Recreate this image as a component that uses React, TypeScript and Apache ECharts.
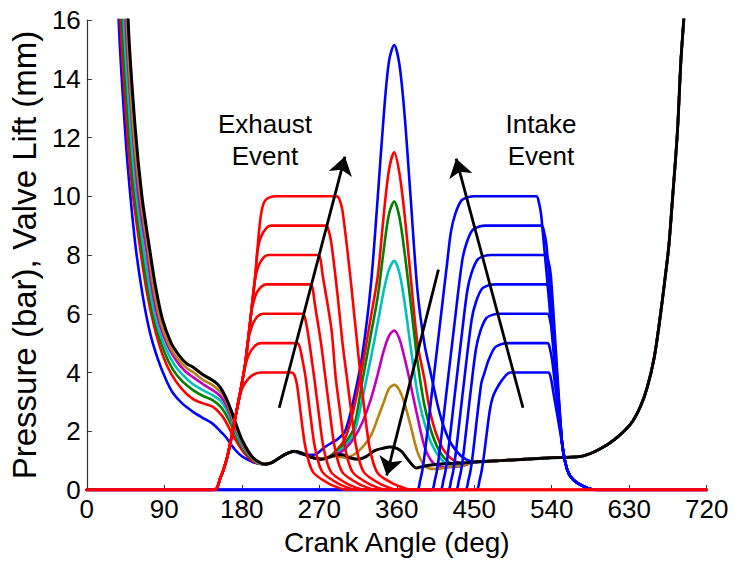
import React, { useEffect, useRef } from "react";
import * as echarts from "echarts";

// ---------- Pressure curves (crank angle deg, pressure bar) ----------
const expBlue = [[20,40],[30,24],[37,16],[45,12],[50,10.2],[57,8.2],[65,6.6],[73,5.4],[82,4.5],[92,3.75],[100,3.3],[111,2.94],[123,2.67],[135,2.45],[146,2.26],[155,2.0],[161,1.82],[172,1.38],[180,1.15],[188,1.02],[198,0.9],[207,0.88]];
const expRed = [[22,40],[32,24],[39,16],[47,12.2],[53,10.2],[62,8.2],[70,6.7],[78,5.6],[88,4.6],[98,3.95],[110,3.45],[123,3.1],[135,2.95],[146,2.84],[155,2.6],[161,2.35],[168,1.95],[175,1.6],[183,1.25],[192,1.0],[200,0.9],[207,0.88]];
const expGreen = [[24,40],[34,24],[41,16],[49,12.2],[55,10.2],[64,8.2],[72,6.7],[80,5.6],[90,4.7],[100,4.1],[111,3.7],[123,3.41],[135,3.2],[146,3.06],[155,2.85],[161,2.6],[168,2.2],[175,1.75],[183,1.35],[192,1.05],[200,0.9],[207,0.88]];
const expCyan = [[25,40],[36,24],[43,16],[51,12.2],[57,10.2],[66,8.2],[74,6.7],[82,5.6],[92,4.8],[102,4.25],[112,3.9],[123,3.61],[135,3.4],[146,3.23],[155,3.05],[161,2.8],[168,2.35],[175,1.85],[183,1.4],[192,1.08],[200,0.9],[207,0.88]];
const expMagenta = [[27,40],[38,24],[45,16],[53,12.3],[60,10],[69,8.2],[76,6.8],[84,5.7],[94,4.9],[104,4.4],[114,4.05],[123,3.85],[135,3.6],[146,3.4],[155,3.2],[161,2.95],[168,2.45],[175,1.95],[183,1.45],[192,1.1],[200,0.92],[207,0.88]];
const expOlive = [[28,40],[39,24],[46.5,16],[54,12.3],[62,10],[71,8.2],[78,6.8],[86,5.7],[96,4.9],[106,4.45],[116,4.15],[123,4.02],[135,3.75],[146,3.57],[155,3.35],[161,3.1],[168,2.55],[175,2.0],[183,1.5],[192,1.1],[200,0.92],[207,0.88]];
const expBlack = [[30,40],[40,24],[48,16],[56,12.4],[64,10],[73,8.2],[80,6.9],[88,5.8],[98,5.0],[108,4.55],[116,4.3],[123,4.19],[135,3.92],[146,3.74],[152,3.6],[157,3.4],[163,3.05],[169,2.6],[175,2.1],[180,1.72],[188,1.3],[195,1.05],[207,0.88]];

const baseWave = [[215,0.93],[225,1.12],[233,1.25],[241,1.32],[250,1.25],[260,1.12],[272,1.05],[280,1.1]];
const waveBlue = [[215,0.95],[225,1.12],[233,1.25],[241,1.3],[250,1.22],[264,1.2],[276,1.45],[284,1.6]];

const peakBlue = [[290,1.7],[300,2.0],[310,3.1],[320,4.6],[330,7.0],[338,10.0],[345,12.8],[351,14.6],[357,15.15],[363,14.5],[369,12.8],[376,10.0],[384,6.8],[392,5.0],[400,3.9],[410,2.6],[420,1.75],[430,1.3],[440,1.05]];
const peakRed = [[290,1.35],[300,1.75],[310,2.75],[320,4.2],[330,5.9],[338,7.3],[345,9.4],[351,10.9],[357,11.5],[363,10.8],[369,9.4],[376,7.3],[384,5.0],[392,3.8],[400,2.5],[410,1.6],[420,1.15],[430,0.95],[440,0.9]];
const peakGreen = [[290,1.3],[300,1.6],[310,2.1],[320,3.7],[330,5.3],[338,6.6],[345,8.2],[351,9.4],[357,9.82],[363,9.3],[369,8.1],[376,6.4],[384,4.4],[392,2.9],[400,2.0],[410,1.3],[420,0.95],[430,0.85],[440,0.87]];
const peakCyan = [[290,1.25],[300,1.5],[310,1.9],[320,3.1],[330,4.5],[338,5.7],[345,6.8],[351,7.5],[357,7.8],[363,7.4],[369,6.4],[376,4.9],[384,3.3],[392,2.3],[400,1.6],[410,1.1],[420,0.85],[430,0.8],[440,0.85]];
const peakMagenta = [[290,1.2],[300,1.4],[310,1.75],[320,2.3],[330,3.1],[338,3.95],[345,4.75],[351,5.25],[357,5.43],[363,5.15],[369,4.5],[376,3.6],[384,2.5],[392,1.5],[400,1.0],[410,0.8],[420,0.78],[430,0.8],[440,0.85]];
const peakOlive = [[290,1.15],[300,1.1],[310,1.2],[320,1.45],[330,1.85],[338,2.45],[345,3.0],[351,3.45],[357,3.58],[363,3.4],[369,2.95],[376,2.2],[384,1.3],[392,0.85],[400,0.72],[410,0.72],[420,0.78],[430,0.82],[440,0.86]];
const peakBlack = [[290,1.2],[297,1.2],[305,1.1],[316,1.05],[325,1.15],[335,1.35],[344,1.42],[352,1.46],[360,1.42],[366,1.3],[374,1.0],[383,0.75],[390,0.8],[400,0.85],[420,0.9],[440,0.93]];

const compression = [[450,0.95],[480,1.0],[510,1.05],[540,1.1],[575,1.15],[595,1.38],[613,1.72],[632,2.26],[643,2.84],[651,3.5],[659,4.5],[666,5.9],[672,7.3],[676,8.3],[680,9.8],[686,12.2],[690,14.6],[694,16.3],[700,19.5],[710,26]];

// ---------- Exhaust valve lift (mm) ----------
const exh4 = [[0,0],[148,0],[155,0.4],[161,0.9],[166,1.5],[172,2.4],[177,3.1],[181,3.5],[188,3.8],[195,3.95],[202,4.0],[238,4],[241,3.92],[244,3.6],[248,2.7],[253,1.6],[258,0.95],[263,0.6],[271,0.4],[286,0.15],[303,0],[720,0]];
const exh5 = [[0,0],[148,0],[155,0.4],[161,0.9],[166,1.5],[172,2.4],[178,3.3],[183,4.1],[188,4.6],[195,4.9],[202,5.0],[244,5],[247,4.9],[250,4.5],[254,3.85],[259,2.7],[264,1.6],[269,0.95],[274,0.6],[282,0.4],[297,0.15],[314,0],[720,0]];
const exh6 = [[0,0],[148,0],[155,0.4],[161,0.9],[166,1.5],[172,2.4],[178,3.3],[184,4.3],[187,5.05],[192,5.6],[198,5.9],[205,6.0],[250,6],[253,5.9],[257,5.3],[264,3.85],[269,2.7],[274,1.6],[279,0.95],[284,0.6],[292,0.4],[307,0.15],[324,0],[720,0]];
const exh7 = [[0,0],[148,0],[155,0.4],[161,0.9],[166,1.5],[172,2.4],[178,3.3],[184,4.3],[190,5.8],[192,6.2],[197,6.7],[203,6.93],[209,7.0],[259,7],[262,6.9],[265,6.3],[272,5.0],[277,3.85],[282,2.7],[287,1.6],[292,0.95],[297,0.6],[305,0.4],[320,0.15],[337,0],[720,0]];
const exh8 = [[0,0],[148,0],[155,0.4],[161,0.9],[166,1.5],[172,2.4],[178,3.3],[184,4.3],[190,5.8],[195,7.1],[199,7.6],[205,7.9],[211,8.0],[268,8],[271,7.9],[274,7.3],[284,5.5],[289,3.85],[294,2.7],[299,1.6],[304,0.95],[309,0.6],[317,0.4],[332,0.15],[349,0],[720,0]];
const exh9 = [[0,0],[148,0],[155,0.4],[161,0.9],[166,1.5],[172,2.4],[178,3.3],[184,4.3],[190,5.8],[196,7.4],[198,8.1],[202,8.6],[208,8.9],[214,9.0],[277,9],[280,8.92],[284,8.4],[291,6.7],[297,5.0],[302,3.85],[307,2.7],[312,1.6],[317,0.95],[322,0.6],[330,0.4],[345,0.15],[362,0],[720,0]];
const exh10 = [[0,0],[148,0],[155,0.4],[161,0.9],[166,1.5],[172,2.4],[178,3.3],[184,4.3],[190,5.8],[196,7.4],[200,8.8],[203,9.5],[207,9.85],[213,9.97],[220,10],[290,10],[293,9.92],[297,9.5],[307,7.0],[318,3.85],[323,2.6],[328,1.5],[333,0.9],[338,0.57],[346,0.38],[361,0.15],[378,0],[720,0]];

// ---------- Intake valve lift (mm) ----------
const int10 = [[0,0],[383,0],[387,0.3],[391,0.9],[400,3.1],[410,5.6],[418,7.6],[423,8.8],[428,9.4],[435,9.85],[443,9.97],[450,10],[522,10],[525,9.8],[528,9.3],[540,5.4],[552,1.6],[556,0.9],[560,0.55],[565,0.35],[572,0.2],[582,0.06],[592,0],[720,0]];
const int9 = [[0,0],[400,0],[404,0.3],[408,0.9],[418,3.4],[428,5.9],[436,7.8],[441,8.4],[448,8.85],[456,8.97],[463,9],[528,9],[531,8.8],[534,8.3],[543,4.95],[552,1.6],[556,0.9],[560,0.55],[565,0.35],[572,0.2],[582,0.06],[592,0],[720,0]];
const int8 = [[0,0],[410,0],[414,0.3],[418,0.9],[428,3.4],[436,5.4],[442,6.8],[447,7.4],[454,7.85],[462,7.97],[470,8],[533,8],[536,7.8],[539,7.3],[552,1.6],[556,0.9],[560,0.55],[565,0.35],[572,0.2],[582,0.06],[592,0],[720,0]];
const int7 = [[0,0],[419,0],[423,0.3],[427,0.9],[437,3.4],[447,5.8],[452,6.4],[459,6.85],[467,6.97],[475,7],[534,7],[537,6.8],[540,6.3],[552,1.6],[556,0.9],[560,0.55],[565,0.35],[572,0.2],[582,0.06],[592,0],[720,0]];
const int6 = [[0,0],[428,0],[432,0.3],[436,0.9],[446,3.4],[452,4.8],[457,5.4],[464,5.85],[472,5.97],[480,6],[535,6],[538,5.8],[541,5.3],[552,1.6],[556,0.9],[560,0.55],[565,0.35],[572,0.2],[582,0.06],[592,0],[720,0]];
const int5 = [[0,0],[439,0],[443,0.3],[447,0.9],[458,3.6],[462,4.0],[467,4.45],[474,4.85],[482,4.97],[490,5],[535,5],[538,4.8],[541,4.3],[552,1.6],[556,0.9],[560,0.55],[565,0.35],[572,0.2],[582,0.06],[592,0],[720,0]];
const int4 = [[0,0],[452,0],[456,0.3],[460,0.9],[468,2.7],[472,3.2],[479,3.6],[486,3.88],[492,4],[536,4],[539,3.8],[542,3.3],[552,1.6],[556,0.9],[560,0.55],[565,0.35],[572,0.2],[582,0.06],[592,0],[720,0]];

// ---------- Arrows [from, to] ----------
const arrowExhaust = [[223.5, 2.8], [299.8, 11.35]];
const arrowIntake = [[506.6, 2.8], [429, 11.28]];
const arrowPressure = [[408.4, 7.5], [348.3, 0.5]];

const C = {
  blue: "#0000FF",
  red: "#FF0000",
  green: "#008000",
  cyan: "#00BFBF",
  magenta: "#BF00BF",
  olive: "#B8820F",
  black: "#000000",
};

const FONT = "'Liberation Sans', Arial, Helvetica, sans-serif";

export default function App() {
  const ref = useRef<HTMLDivElement>(null);
  useEffect(() => {
    if (!ref.current) return;
    const chart = echarts.init(ref.current, undefined, { renderer: "svg" });
    const line = (data: number[][], color: string, width = 2.6) => ({
      type: "line",
      data,
      showSymbol: false,
      symbol: "none",
      smooth: 0.3,
      lineStyle: { color, width, join: "round", cap: "round" },
      itemStyle: { color },
      clip: true,
      silent: true,
    });
    const pressure = [
      line([...expBlue, ...waveBlue, ...peakBlue, ...compression], C.blue),
      line([...expRed, ...baseWave, ...peakRed, ...compression], C.red),
      line([...expGreen, ...baseWave, ...peakGreen, ...compression], C.green),
      line([...expCyan, ...baseWave, ...peakCyan, ...compression], C.cyan),
      line([...expMagenta, ...baseWave, ...peakMagenta, ...compression], C.magenta),
      line([...expOlive, ...baseWave, ...peakOlive, ...compression], C.olive),
      line([...expBlack, ...baseWave, ...peakBlack, ...compression], C.black, 3),
    ];
    const intake = [int10, int9, int8, int7, int6, int5, int4].map((d) => line(d, C.blue));
    const exhaust = [exh10, exh9, exh8, exh7, exh6, exh5, exh4].map((d) => line(d, C.red));
    const arrows = {
      type: "lines",
      coordinateSystem: "cartesian2d",
      silent: true,
      symbol: ["none", "arrow"],
      symbolSize: [14, 18],
      lineStyle: { color: "#000", width: 2.8, opacity: 1 },
      itemStyle: { color: "#000" },
      data: [
        { coords: arrowExhaust },
        { coords: arrowIntake },
        { coords: arrowPressure },
      ],
      z: 5,
    };
    chart.setOption({
      animation: false,
      backgroundColor: "#fff",
      grid: { left: 83.5, top: 20, width: 623.2, height: 475, containLabel: false },
      xAxis: {
        type: "value",
        min: 0,
        max: 720,
        interval: 90,
        axisLine: { show: true, lineStyle: { color: "#333", width: 1.2 } },
        axisTick: { show: true, inside: true, length: 5, lineStyle: { color: "#333" } },
        axisLabel: { color: "#000", fontSize: 26, fontFamily: FONT, margin: 6 },
        splitLine: { show: false },
        name: "Crank Angle (deg)",
        nameLocation: "middle",
        nameGap: 38,
        nameTextStyle: { color: "#000", fontSize: 28, fontFamily: FONT },
      },
      yAxis: {
        type: "value",
        min: 0,
        max: 16,
        interval: 2,
        axisLine: { show: true, lineStyle: { color: "#333", width: 1.2 } },
        axisTick: { show: true, inside: true, length: 5, lineStyle: { color: "#333" } },
        axisLabel: { color: "#000", fontSize: 26, fontFamily: FONT, margin: 6 },
        splitLine: { show: false },
        name: "Pressure (bar), Valve Lift (mm)",
        nameLocation: "middle",
        nameGap: 43,
        nameRotate: 90,
        nameTextStyle: { color: "#000", fontSize: 33, fontFamily: FONT },
      },
      graphic: [
        {
          type: "text",
          x: 265,
          y: 108,
          style: { text: "Exhaust\nEvent", font: `26px ${FONT}`, fill: "#000", align: "center", verticalAlign: "top", lineHeight: 32 },
        },
        {
          type: "text",
          x: 541,
          y: 108,
          style: { text: "Intake\nEvent", font: `26px ${FONT}`, fill: "#000", align: "center", verticalAlign: "top", lineHeight: 32 },
        },
      ],
      series: [...pressure, ...intake, ...exhaust, arrows],
    });
    return () => chart.dispose();
  }, []);
  return <div ref={ref} style={{ width: 735, height: 561, position: "absolute", left: 0, top: 0 }} />;
}
